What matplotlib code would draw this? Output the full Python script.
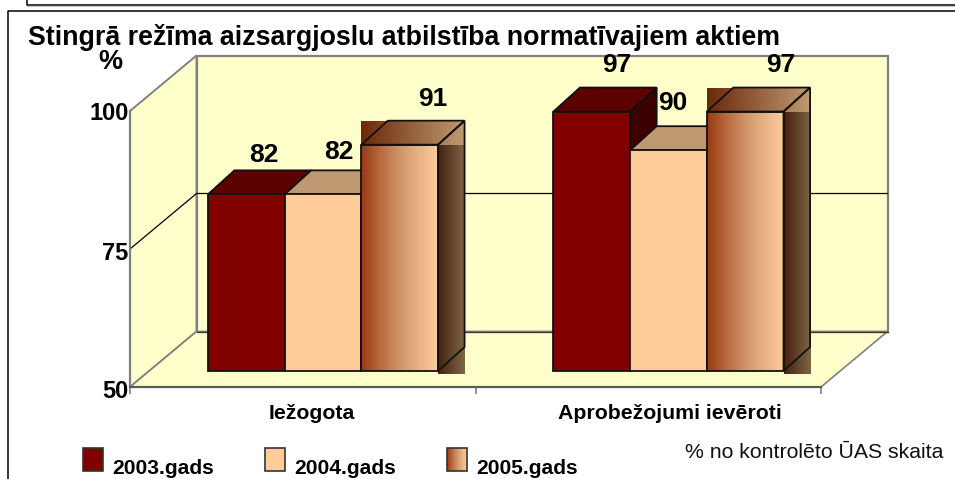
import numpy as np
import matplotlib
matplotlib.use("Agg")
import matplotlib.pyplot as plt
from matplotlib.patches import Polygon, Rectangle
from matplotlib.colors import LinearSegmentedColormap
from matplotlib.transforms import ScaledTranslation

plt.rcParams['font.family'] = ['Liberation Sans', 'DejaVu Sans']

categories = ["Iežogota", "Aprobežojumi ievēroti"]
series_names = ["2003.gads", "2004.gads", "2005.gads"]
values_2003 = [82, 97]
values_2004 = [82, 90]
values_2005 = [91, 97]
y_ticks = [50, 75, 100]
title = "Stingrā režīma aizsargjoslu atbilstība normatīvajiem aktiem"
note = "% no kontrolēto ŪAS skaita"

W, H = 955, 479
fig = plt.figure(figsize=(W / 100, H / 100), dpi=100, facecolor="white")

# pixel overlay for the frame, title and legend
ov = fig.add_axes([0, 0, 1, 1], zorder=0)
ov.set_xlim(0, W); ov.set_ylim(H, 0); ov.axis("off")
ov.plot([8, 8, W], [H, 10.5, 10.5], color="black", lw=1.1, solid_capstyle="butt")
ov.plot([26.5, 26.5, W], [0, 5, 5], color="black", lw=1.1, solid_capstyle="butt")
ov.plot([27, W], [6.2, 6.2], color="#c8c8c8", lw=0.8)
ov.text(28, 37.5, title, fontsize=19.3, fontweight="bold", va="center", ha="left", color="black")
ov.text(110, 62, "%", fontsize=19.5, fontweight="bold", va="center", ha="center")
ov.text(943, 452.5, note, fontsize=15.3, va="center", ha="right", color="#111111")

grad_front = LinearSegmentedColormap.from_list("f", ["#963c0f", "#b86a3e", "#cf9468", "#e8b284", "#ffcc99"])
grad_top = LinearSegmentedColormap.from_list("t", ["#6b290b", "#c09a72"])
grad_side = LinearSegmentedColormap.from_list("s", ["#47200e", "#7d6648"])
ramp = np.linspace(0, 1, 128)[None, :]

# legend
swatch_x = [83, 265, 447]
text_x = [112, 294, 476]
swatch_fill = ["#800000", "#ffcc99", None]
for sx, tx, name, fc in zip(swatch_x, text_x, series_names, swatch_fill):
    if fc is None:
        ov.imshow(ramp, cmap=grad_front, extent=(sx, sx + 20, 471, 448), aspect="auto", zorder=1)
        ov.add_patch(Rectangle((sx, 448), 20, 23, fc="none", ec="#333333", lw=1.2, zorder=2))
    else:
        ov.add_patch(Rectangle((sx, 448), 20, 23, fc=fc, ec="#333333", lw=1.2, zorder=2))
    ov.text(tx, 468, name, fontsize=15.1, fontweight="bold", va="center", ha="left")
ov.set_xlim(0, W); ov.set_ylim(H, 0)

# main axes = front plane of the 3-D box
L, R, T, B = 130, 821, 111, 387
ax = fig.add_axes([L / W, 1 - B / H, (R - L) / W, (B - T) / H], zorder=1)
ax.patch.set_alpha(0)
ax.set_xlim(-0.5, 1.5); ax.set_ylim(50, 100)
PX = 2 / (R - L); PY = 50 / (B - T)
DX, DY = 66.5 * PX, 55.5 * PY
x0, x1, y0, y1 = -0.5, 1.5, 50, 100
WALL = "#ffffcc"; GREY = "#808080"
ax.add_patch(Polygon([(x0 + DX, y0 + DY), (x1 + DX, y0 + DY), (x1 + DX, y1 + DY), (x0 + DX, y1 + DY)],
                     fc=WALL, ec=GREY, lw=1.6, clip_on=False, zorder=1))
ax.add_patch(Polygon([(x0, y0), (x0 + DX, y0 + DY), (x0 + DX, y1 + DY), (x0, y1)],
                     fc=WALL, ec=GREY, lw=1.4, clip_on=False, zorder=1))
ax.add_patch(Polygon([(x0, y0), (x1, y0), (x1 + DX, y0 + DY), (x0 + DX, y0 + DY)],
                     fc=WALL, ec=GREY, lw=1.2, clip_on=False, zorder=1))
ax.plot([x0 + DX, x1 + DX], [y0 + DY] * 2, color="#333333", lw=0.9, clip_on=False, zorder=2)
for t in y_ticks[1:-1]:
    ax.plot([x0, x0 + DX, x1 + DX], [t, t + DY, t + DY], color="black", lw=0.9, clip_on=False, zorder=2)

# bars
BW = 76.7 * PX
SHX, SHY = 20.25 * PX, 16 * PY
BDX, BDY = 26.5 * PX, 24 * PY
all_series = [values_2003, values_2004, values_2005]
front_c = ["#800000", "#ffcc99", None]
top_c = ["#5c0000", "#be9870", None]
side_c = ["#3d0000", "#9f7f60", None]
EDGE = "#111111"; ELW = 1.3
z = 3
label_off = [[(18, 39), (24.5, 46.5)], [(16, 42), (4, 47)], [(33.5, 45.6), (35.5, 47)]]
for c in range(2):
    for s, vals in enumerate(all_series):
        v = vals[c]
        xl = c + (s - 1.5) * BW + SHX
        xr = xl + BW
        yb = y0 + SHY
        yt = v + SHY
        front = [(xl, yb), (xr, yb), (xr, yt), (xl, yt)]
        top = [(xl, yt), (xr, yt), (xr + BDX, yt + BDY), (xl + BDX, yt + BDY)]
        side = [(xr, yb), (xr + BDX, yb + BDY), (xr + BDX, yt + BDY), (xr, yt)]
        if front_c[s]:
            ax.add_patch(Polygon(side, fc=side_c[s], ec=EDGE, lw=ELW, clip_on=False, zorder=z))
            ax.add_patch(Polygon(top, fc=top_c[s], ec=EDGE, lw=ELW, clip_on=False, zorder=z))
            ax.add_patch(Polygon(front, fc=front_c[s], ec=EDGE, lw=ELW, clip_on=False, zorder=z + 0.5))
        else:
            # gradients fill the bounding boxes of each face, as in the source picture
            ax.imshow(ramp, cmap=grad_side, aspect="auto", clip_on=False, zorder=z,
                      extent=(xr, xr + BDX, yb - 3 * PY, yt))
            ax.imshow(ramp, cmap=grad_top, aspect="auto", clip_on=False, zorder=z,
                      extent=(xl, xr + BDX, yt, yt + BDY))
            ax.imshow(ramp, cmap=grad_front, aspect="auto", clip_on=False, zorder=z + 0.5,
                      extent=(xl, xr, yb, yt))
            ax.add_patch(Polygon(side, fc="none", ec=EDGE, lw=ELW, clip_on=False, zorder=z + 0.6))
            ax.add_patch(Polygon(top, fc="none", ec=EDGE, lw=ELW, clip_on=False, zorder=z + 0.6))
            ax.add_patch(Polygon(front, fc="none", ec=EDGE, lw=ELW, clip_on=False, zorder=z + 0.6))
        ax.annotate(str(v), xy=((xl + xr) / 2, yt), xytext=label_off[s][c], textcoords="offset pixels",
                    ha="center", va="center", fontsize=19, fontweight="bold", annotation_clip=False, zorder=20)
        z += 1
ax.set_xlim(-0.5, 1.5); ax.set_ylim(50, 100)

# axes furniture
for side_name in ("top", "right"):
    ax.spines[side_name].set_visible(False)
for side_name in ("left", "bottom"):
    ax.spines[side_name].set_color(GREY)
    ax.spines[side_name].set_linewidth(1.6)
    ax.spines[side_name].set_zorder(2.5)
ax.spines["bottom"].set_color("#5a5a5a")
ax.set_yticks(y_ticks)
ax.set_yticklabels([str(t) for t in y_ticks], fontsize=17, fontweight="bold")
ax.tick_params(axis="y", length=0, pad=1)
for lab, dy in zip(ax.get_yticklabels(), (-2, -2, 0)):
    lab.set_transform(lab.get_transform() + ScaledTranslation(0, dy / 100, fig.dpi_scale_trans))
ax.set_xticks([0, 1])
ax.set_xticklabels(categories, fontsize=15.3, fontweight="bold")
ax.set_xticks([-0.5, 0.5, 1.5], minor=True)
ax.tick_params(axis="x", which="major", length=0, pad=12)
ax.tick_params(axis="x", which="minor", length=5, width=1.2, color=GREY)
for lab, shift in zip(ax.get_xticklabels(), (9, 22)):
    lab.set_transform(lab.get_transform() + ScaledTranslation(shift / 100, 0, fig.dpi_scale_trans))

fig.savefig("out.png", dpi=100)
